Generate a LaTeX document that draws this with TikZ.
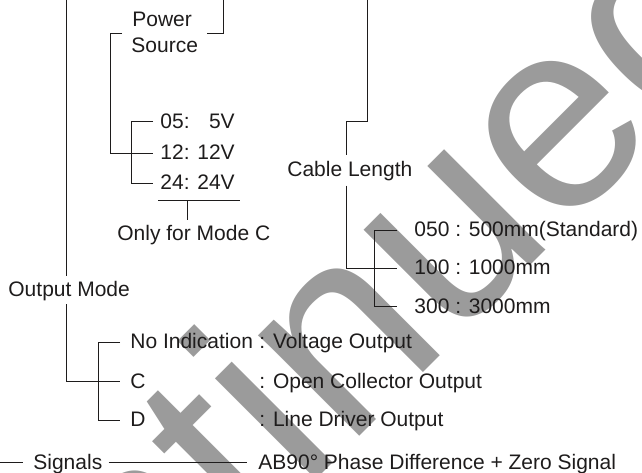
\documentclass[tikz,border=0pt]{standalone}
\usepackage{fontspec}
\setmainfont{Liberation Sans}
\usetikzlibrary{calc}
\definecolor{ink}{RGB}{30,28,28}
\definecolor{stampgray}{RGB}{155,155,155}

\begin{document}
\begin{tikzpicture}[x=0.5pt, y=-0.5pt, font=\fontsize{10.5}{12.6}\selectfont,
    lbl/.style={anchor=west, inner sep=0pt, text height=6.5pt, text depth=0pt, text=ink},
    wire/.style={draw=ink, line width=0.5pt}]
  \useasboundingbox (0,0) rectangle (642,472);
  % watermark behind everything
  \begin{scope}
    \clip (0,0) rectangle (642,472);
    \node[anchor=base west, inner sep=0pt, rotate=45, text=stampgray,
          font=\fontsize{135}{135}\selectfont] (stamp) at (-333,1129) {Discontinued};
  \end{scope}

  % power source
  \node[lbl] (power) at (132,19.5) {Power};
  \node[lbl] (source) at (131,46.2) {Source};
  \coordinate (pwrl) at (122,33.3);
  \coordinate (pwrr) at (207,33.3);
  \node[lbl] (v05) at (160,121.7) {05: \phantom{1}5V};
  \node[lbl] (v12) at (160,153) {12: 12V};
  \node[lbl] (v24) at (160,183.3) {24: 24V};
  \node[lbl] (only) at (117,234) {Only for Mode C};
  \coordinate (vbar) at (131,0);
  \coordinate (ul) at (158,200.7);
  \draw[wire] (pwrr) -- ++(16,0) -- ++(0,-33.3);
  \draw[wire] (pwrl) -- ++(-12,0) |- ($(v12.west)+(-7,0)$);
  \draw[wire] ($(v05.west)+(-7,0)$) -- (vbar |- v05.west) -- (vbar |- v24.west) -- ($(v24.west)+(-7,0)$);
  \draw[wire] (ul) -- ++(82,0);
  \draw[wire] (ul) ++(29,0) -- ++(0,19.3);

  % cable length
  \node[lbl, inner ysep=4.25pt] (cable) at (287,170.2) {Cable Length};
  \node[lbl] (c050) at (414,230) {050 : 500mm(Standard)};
  \node[lbl] (c100) at (414,268.3) {100 : 1000mm};
  \node[lbl] (c300) at (414,306.7) {300 : 3000mm};
  \coordinate (cltop) at (367.7,0);
  \coordinate (clbar) at (346,121);
  \coordinate (cbar) at (374,0);
  \draw[wire] (cltop) |- (clbar) -- (clbar |- cable.north);
  \draw[wire] (clbar |- cable.south) |- ($(c100.west)+(-17,0)$);
  \draw[wire] ($(c050.west)+(-17,0)$) -- (cbar |- c050.west) -- (cbar |- c300.west) -- ($(c300.west)+(-17,0)$);

  % output mode
  \node[lbl, inner ysep=3.5pt] (mode) at (8,290.2) {Output Mode};
  \node[lbl] (noind) at (130,342.3) {No Indication};
  \node[lbl] (oc) at (130,381.7) {C};
  \node[lbl] (ld) at (130,420) {D};
  \node[lbl] (noindtxt) at (259,342.3) {: Voltage Output};
  \node[lbl] (octxt) at (259,381.7) {: Open Collector Output};
  \node[lbl] (ldtxt) at (259,420) {: Line Driver Output};
  \coordinate (spine) at (66,0);
  \coordinate (mbar) at (98,0);
  \draw[wire] (spine) -- (spine |- mode.north);
  \draw[wire] (spine |- mode.south) |- ($(oc.west)+(-10,0)$);
  \draw[wire] ($(noind.west)+(-10,0)$) -- (mbar |- noind.west) -- (mbar |- ld.west) -- ($(ld.west)+(-10,0)$);

  % signals
  \node[lbl] (sig) at (33,462.5) {Signals};
  \node[lbl] (ab) at (258,462.5) {AB90° Phase Difference + Zero Signal};
  \coordinate (sigl) at (0,462.5);
  \draw[wire] (sigl) -- ($(sig.west)+(-10,0)$);
  \draw[wire] ($(sig.east)+(6,0)$) -- ($(ab.west)+(-11,0)$);
\end{tikzpicture}
\end{document}
